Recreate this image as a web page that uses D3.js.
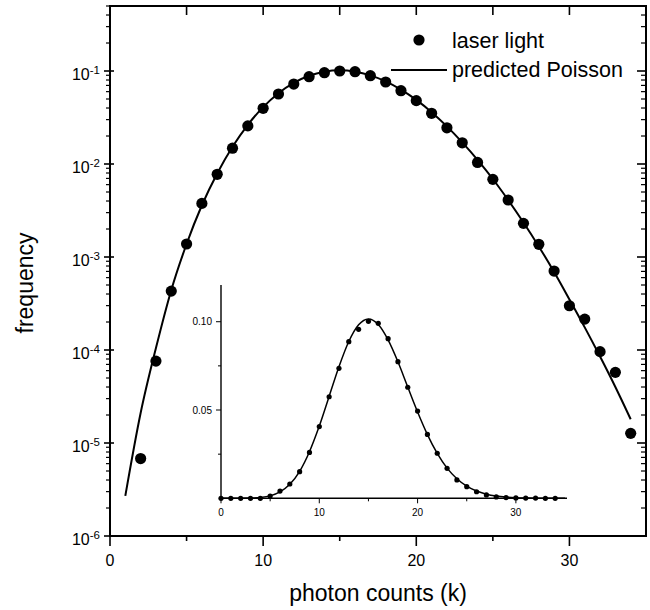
<!DOCTYPE html>
<html><head><meta charset="utf-8">
<script src="https://cdn.jsdelivr.net/npm/d3@7"></script>
<style>
html,body{margin:0;padding:0;background:#fff;}
svg{display:block;font-family:"Liberation Sans",Arial,Helvetica,sans-serif;}
</style></head>
<body>
<svg id="chart" width="650" height="610"></svg>
<script>
// ---- data ----
const counts = [2,3,4,5,6,7,8,9,10,11,12,13,14,15,16,17,18,19,20,21,22,23,24,25,26,27,28,29,30,31,32,33,34];
const measured = [6.8e-6,7.6e-5,4.3e-4,1.38e-3,3.77e-3,7.75e-3,0.0148,0.0257,0.0397,0.0566,0.0724,0.0869,0.0959,0.100,0.0983,0.0890,0.0762,0.0614,0.0480,0.0351,0.0245,0.0169,0.0104,0.00684,0.0041,0.0023,0.00137,7.06e-4,2.99e-4,2.15e-4,9.6e-5,5.75e-5,1.27e-5];
const curveK = [0,1,2,3,4,5,6,7,8,9,10,11,12,13,14,15,16,17,18,19,20,21,22,23,24,25,26,27,28,29,30,31,32,33,34,35];
const predicted = [1.9e-7,2.7e-6,2.1e-5,1.05e-4,4.4e-4,1.38e-3,3.6e-3,7.9e-3,0.0153,0.0264,0.0409,0.0577,0.0745,0.0888,0.0983,0.1016,0.0984,0.0897,0.0773,0.0630,0.0489,0.0361,0.0254,0.0171,0.0111,0.0069,0.0041,0.00235,0.00130,6.9e-4,3.5e-4,1.75e-4,8.5e-5,4.0e-5,1.8e-5,8e-6];
const insetCounts = [0,1,2,3,4,5,6,7,8,9,10,11,12,13,14,15,16,17,18,19,20,21,22,23,24,25,26,27,28,29,30,31,32,33,34];
const insetFreq = [0,0,0,0,0,0.0013,0.0041,0.0081,0.0151,0.026,0.0406,0.0575,0.0736,0.0887,0.0957,0.1002,0.0991,0.0904,0.0774,0.0629,0.0494,0.0362,0.0255,0.017,0.0104,0.0066,0.0037,0.0019,0.0008,0.0004,0.0002,0.0001,0.0001,0,0];
const xTickLabels = [0,10,20,30];
const yDecades = [-6,-5,-4,-3,-2,-1];
const insetXTicks = [0,10,20,30];
const insetYTicks = [0.05,0.10];

const svg = d3.select("#chart");

// ---- main scales ----
const x = d3.scaleLinear().domain([0,35]).range([110,646]);
const y = d3.scaleLog().domain([1e-6,0.5]).range([536,6]);
const X0 = x.range()[0], X1 = x.range()[1], Y0 = y.range()[0], Y1 = y.range()[1];

const axG = svg.append("g").attr("stroke","#000").attr("fill","none");
// frame
axG.append("rect").attr("x",X0).attr("y",Y1).attr("width",X1-X0).attr("height",Y0-Y1).attr("stroke-width",2);

// y ticks
const minorY = [];
yDecades.forEach(e=>{ for(let m=2;m<=9;m++){ const v=m*Math.pow(10,e); if(v<=0.5) minorY.push(v);} });
const majorY = yDecades.map(e=>Math.pow(10,e));
majorY.forEach(v=>{
  axG.append("line").attr("x1",X0-6).attr("x2",X0+4).attr("y1",y(v)).attr("y2",y(v)).attr("stroke-width",1.6);
  axG.append("line").attr("x1",X1-9).attr("x2",X1).attr("y1",y(v)).attr("y2",y(v)).attr("stroke-width",1.6);
});
minorY.forEach(v=>{
  axG.append("line").attr("x1",X0-4).attr("x2",X0).attr("y1",y(v)).attr("y2",y(v)).attr("stroke-width",1.2);
  axG.append("line").attr("x1",X1-5).attr("x2",X1).attr("y1",y(v)).attr("y2",y(v)).attr("stroke-width",1.2);
});
// x ticks
[0,5,10,15,20,25,30].forEach(v=>{
  const major = v%10===0;
  axG.append("line").attr("x1",x(v)).attr("x2",x(v)).attr("y1",Y0).attr("y2",Y0+(major?10:5)).attr("stroke-width",1.6);
  if(v>0) axG.append("line").attr("x1",x(v)).attr("x2",x(v)).attr("y1",Y1).attr("y2",Y1+9).attr("stroke-width",1.6);
});

// tick labels
svg.selectAll(".xl").data(xTickLabels).enter().append("text")
  .attr("x",d=>x(d)).attr("y",Y0+30).attr("text-anchor","middle")
  .attr("font-size",16).text(d=>d);
const yl = svg.selectAll(".yl").data(yDecades).enter().append("text")
  .attr("x",100).attr("y",d=>y(Math.pow(10,d))+9).attr("text-anchor","end").attr("font-size",16);
yl.append("tspan").text("10");
yl.append("tspan").attr("dy",-6).attr("font-size",11.5).text(d=>String(d));

// axis titles
svg.append("text").attr("x",(X0+X1)/2).attr("y",601).attr("text-anchor","middle")
  .attr("font-size",23).text("photon counts (k)");
svg.append("text").attr("transform","translate(33,283) rotate(-90)").attr("text-anchor","middle")
  .attr("font-size",23).text("frequency");

// main curve
const curveData = curveK.map((k,i)=>({k,v:predicted[i]})).filter(d=>d.k>=1&&d.k<=34);
svg.append("path").datum(curveData)
  .attr("d",d3.line().x(d=>x(d.k)).y(d=>y(d.v)).curve(d3.curveMonotoneX))
  .attr("fill","none").attr("stroke","#000").attr("stroke-width",2);
svg.selectAll(".pt").data(counts.map((k,i)=>({k,v:measured[i]}))).enter().append("circle")
  .attr("cx",d=>x(d.k)).attr("cy",d=>y(d.v)).attr("r",5.6).attr("fill","#000");

// legend
svg.append("circle").attr("cx",419).attr("cy",40).attr("r",5.6).attr("fill","#000");
svg.append("text").attr("x",452).attr("y",48).attr("font-size",21.5).text("laser light");
svg.append("line").attr("x1",391).attr("x2",447).attr("y1",70).attr("y2",70).attr("stroke","#000").attr("stroke-width",2);
svg.append("text").attr("x",452).attr("y",77).attr("font-size",21.5).text("predicted Poisson");

// ---- inset ----
const ix = d3.scaleLinear().domain([0,35.2]).range([221,567]);
const iy = d3.scaleLinear().domain([0,0.1208]).range([498.3,285]);
const ig = svg.append("g").attr("stroke","#000").attr("fill","none");
ig.append("line").attr("x1",ix(0)).attr("x2",ix(0)).attr("y1",iy.range()[0]).attr("y2",iy.range()[1]).attr("stroke-width",1.4);
ig.append("line").attr("x1",ix.range()[0]).attr("x2",ix.range()[1]).attr("y1",iy(0)).attr("y2",iy(0)).attr("stroke-width",1.4);
[0.025,0.05,0.075,0.10].forEach(v=>{
  const major = insetYTicks.some(t=>Math.abs(t-v)<1e-9);
  ig.append("line").attr("x1",ix(0)-(major?5:3)).attr("x2",ix(0)).attr("y1",iy(v)).attr("y2",iy(v)).attr("stroke-width",1);
});
[0,5,10,15,20,25,30].forEach(v=>{
  const major = v%10===0;
  ig.append("line").attr("x1",ix(v)).attr("x2",ix(v)).attr("y1",iy(0)).attr("y2",iy(0)+(major?5:3)).attr("stroke-width",1);
});
svg.selectAll(".iyl").data(insetYTicks).enter().append("text")
  .attr("x",212).attr("y",d=>iy(d)+3.5).attr("text-anchor","end").attr("font-size",10)
  .text(d=>d3.format(".2f")(d));
svg.selectAll(".ixl").data(insetXTicks).enter().append("text")
  .attr("x",d=>ix(d)).attr("y",516).attr("text-anchor","middle").attr("font-size",10).text(d=>d);
svg.append("path").datum(curveK.map((k,i)=>({k,v:predicted[i]})))
  .attr("d",d3.line().x(d=>ix(d.k)).y(d=>iy(d.v)).curve(d3.curveMonotoneX))
  .attr("fill","none").attr("stroke","#000").attr("stroke-width",1.5);
svg.selectAll(".ipt").data(insetCounts.map((k,i)=>({k,v:insetFreq[i]}))).enter().append("circle")
  .attr("cx",d=>ix(d.k)).attr("cy",d=>iy(d.v)).attr("r",2.6).attr("fill","#000");
</script>
</body></html>
